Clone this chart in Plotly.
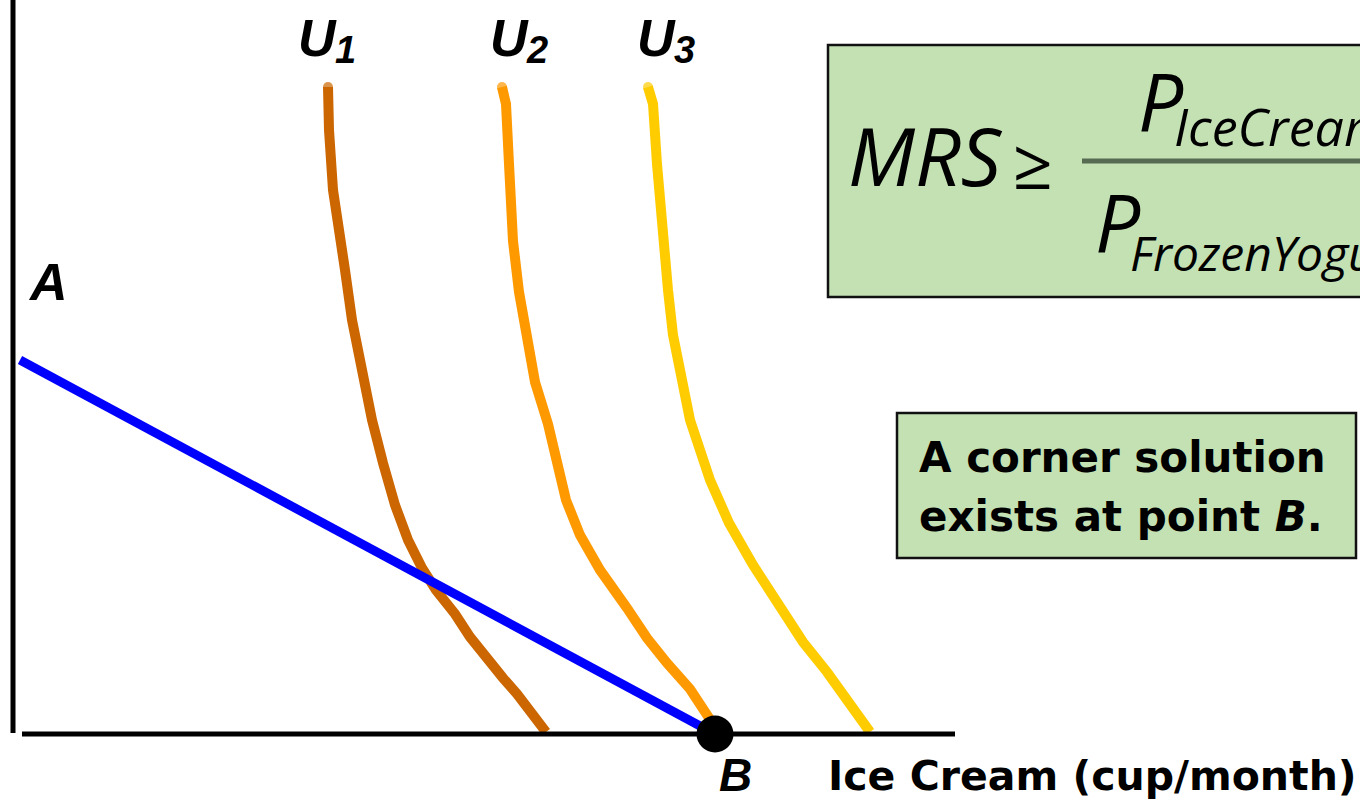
import plotly.graph_objects as go

W, H = 1360, 800

# ---- data (x = ice cream, y = frozen yogurt) ----
X_RANGE = [-1.5, 134.5]
Y_RANGE = [-6.6, 73.4]

u1_x = [31.3, 31.4, 31.8, 32.3, 33.0, 33.7, 34.7, 35.7, 36.8, 38.0, 39.3, 40.7, 42.1, 44.0, 45.5, 47.2, 48.8, 50.2, 51.8, 53.1]
u1_y = [64.7, 60.4, 54.4, 50.4, 46.4, 41.4, 35.7, 31.4, 27.1, 22.9, 19.4, 16.6, 14.4, 12.0, 9.7, 7.4, 5.6, 4.0, 2.0, 0.2]

u2_x = [48.7, 49.1, 49.4, 49.8, 50.4, 51.2, 52.0, 53.3, 54.3, 55.1, 56.5, 58.5, 61.2, 63.2, 65.2, 67.5, 69.8]
u2_y = [64.7, 63.0, 57.0, 49.3, 44.2, 39.4, 35.2, 31.0, 26.3, 23.4, 19.9, 16.4, 12.6, 9.6, 7.1, 4.5, 1.0]

u3_x = [63.3, 63.8, 64.2, 64.8, 65.3, 65.8, 67.5, 69.5, 71.4, 73.8, 76.2, 78.8, 81.2, 83.5, 85.5]
u3_y = [64.7, 63.0, 57.0, 49.3, 44.4, 39.9, 31.4, 25.4, 21.1, 16.9, 13.0, 9.2, 6.2, 3.2, 0.2]

budget_x = [0.5, 70.0]
budget_y = [37.4, 0.0]

corner_x = [70.0]
corner_y = [0.0]

yaxis_line_x = [-0.2, -0.2]
yaxis_line_y = [0.1, 73.4]
xaxis_line_x = [0.7, 94.0]
xaxis_line_y = [0.0, 0.0]

curve_labels = ["1", "2", "3"]
curve_colors = ["#CC6600", "#FF9900", "#FFCC00"]


def px(x):
    return x / W


def py(y):
    return 1 - y / H


fig = go.Figure()

for cx, cy, col in zip([u1_x, u2_x, u3_x], [u1_y, u2_y, u3_y], curve_colors):
    fig.add_trace(go.Scatter(
        x=cx, y=cy, mode="lines+markers",
        line=dict(color=col, width=10),
        marker=dict(color=col, size=[10] + [0] * (len(cx) - 1), line=dict(width=0)),
        hoverinfo="skip", showlegend=False))

fig.add_trace(go.Scatter(x=budget_x, y=budget_y, mode="lines",
                         line=dict(color="#0000FF", width=9),
                         hoverinfo="skip", showlegend=False))

fig.add_trace(go.Scatter(x=yaxis_line_x, y=yaxis_line_y, mode="lines",
                         line=dict(color="black", width=5),
                         hoverinfo="skip", showlegend=False))
fig.add_trace(go.Scatter(x=xaxis_line_x, y=xaxis_line_y, mode="lines",
                         line=dict(color="black", width=5),
                         hoverinfo="skip", showlegend=False))

fig.add_trace(go.Scatter(x=corner_x, y=corner_y, mode="markers",
                         marker=dict(color="black", size=37, line=dict(width=0)),
                         hoverinfo="skip", showlegend=False))

GREEN = "#C4E1B4"
shapes = [
    dict(type="rect", xref="paper", yref="paper",
         x0=px(828), x1=px(1380), y0=py(297), y1=py(45),
         fillcolor=GREEN, line=dict(color="#111111", width=2.5), layer="below"),
    dict(type="line", xref="paper", yref="paper",
         x0=px(1082), x1=px(1380), y0=py(161), y1=py(161),
         line=dict(color="#566B52", width=5)),
    dict(type="rect", xref="paper", yref="paper",
         x0=px(897), x1=px(1356), y0=py(558), y1=py(413),
         fillcolor=GREEN, line=dict(color="#111111", width=2.5), layer="below"),
]

NARROW = "Liberation Sans Narrow, Arial Narrow, Liberation Sans, sans-serif"
SANS = "Liberation Sans, Arial, sans-serif"
GOTHIC = "DejaVu Sans, Verdana, sans-serif"
FORM = "Open Sans, Noto Sans, sans-serif"

ann = []


def add_text(text, x, y, font, size, xanchor="center", weight="bold", style="italic", color="black"):
    ann.append(dict(text=text, x=px(x), y=py(y), xref="paper", yref="paper",
                    xanchor=xanchor, yanchor="middle", showarrow=False,
                    font=dict(family=font, size=size, color=color, weight=weight, style=style)))


u_centres = [317, 509, 656]
sub_centres = [345, 537, 684]
for lab, ux, sx in zip(curve_labels, u_centres, sub_centres):
    add_text("U", ux, 38, NARROW, 52)
    add_text(lab, sx, 50, NARROW, 38)

add_text("A", 48, 282, SANS, 52)
add_text("B", 735, 775, NARROW, 46)

add_text("Ice Cream (cup/month)", 826, 776, GOTHIC, 41, xanchor="left", style="normal")

# formula
add_text("MRS", 846, 155, FORM, 80, xanchor="left", weight="normal")
add_text("≥", 1033, 162, FORM, 70, weight="normal", style="normal")
add_text("P", 1136, 100, FORM, 80, xanchor="left", weight="normal")
add_text("IceCream", 1172, 126, FORM, 52, xanchor="left", weight="normal")
add_text("P", 1093, 221, FORM, 80, xanchor="left", weight="normal")
add_text("FrozenYogurt", 1128, 253, FORM, 48, xanchor="left", weight="normal")

# second box
add_text("A corner solution", 917, 457, GOTHIC, 42, xanchor="left", style="normal")
add_text("exists at point <i>B</i>.", 917, 516, GOTHIC, 42, xanchor="left", style="normal")

fig.update_layout(
    width=W, height=H,
    margin=dict(l=0, r=0, t=0, b=0),
    paper_bgcolor="white", plot_bgcolor="white",
    xaxis=dict(range=X_RANGE, visible=False, fixedrange=True),
    yaxis=dict(range=Y_RANGE, visible=False, fixedrange=True),
    shapes=shapes, annotations=ann, showlegend=False,
)

fig.write_html("out.html", config={"displayModeBar": False},
               post_script="document.body.style.margin='0';document.body.style.overflow='hidden';")
